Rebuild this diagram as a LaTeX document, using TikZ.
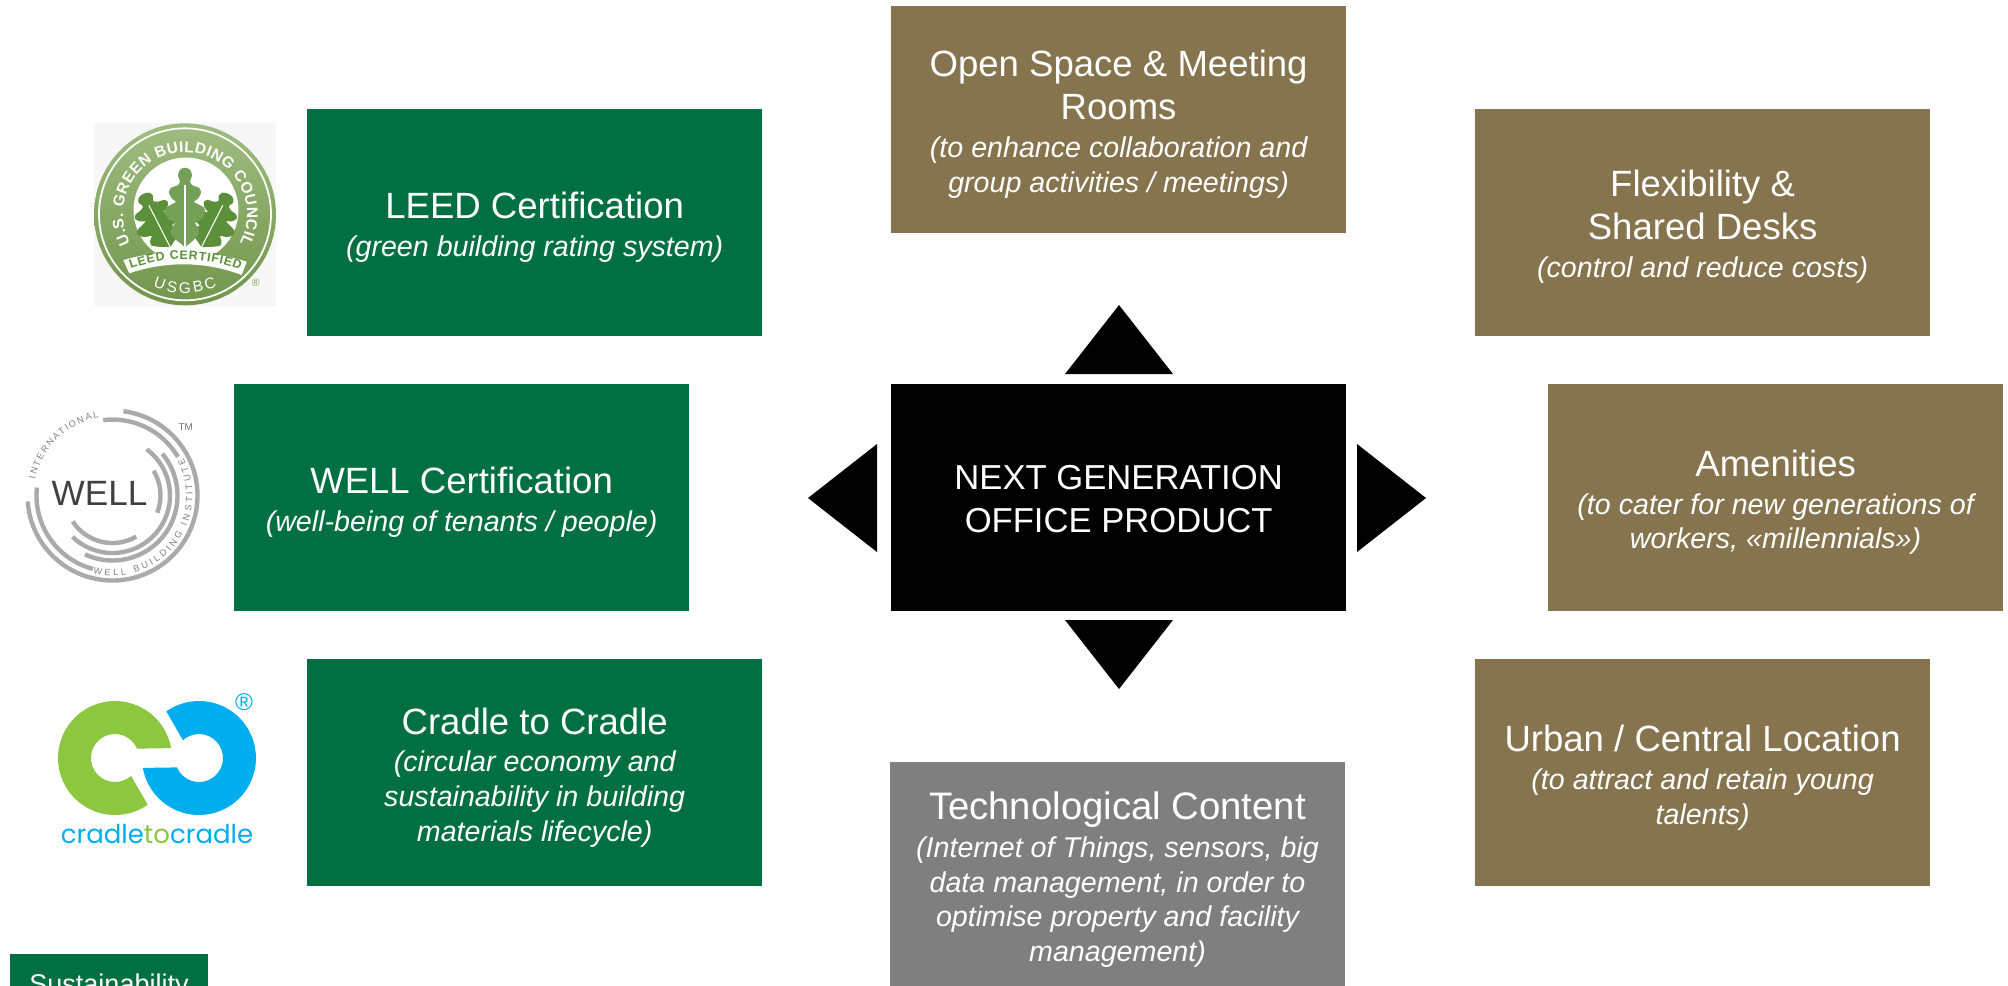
\documentclass[tikz,border=0pt]{standalone}
\usepackage{fontspec}
\setmainfont{Liberation Sans}
\newfontfamily\logofont{Poppins}
\usetikzlibrary{positioning, decorations.text}

\definecolor{boxgreen}{RGB}{0,112,66}
\definecolor{boxbrown}{RGB}{133,116,78}
\definecolor{boxgray}{RGB}{127,127,127}
\definecolor{leedgreen}{RGB}{126,166,85}
\definecolor{leedleaf}{RGB}{92,143,58}
\definecolor{wellgray}{RGB}{170,170,170}
\definecolor{ccgreen}{RGB}{141,198,63}
\definecolor{ccblue}{RGB}{0,174,239}

\newcommand{\heading}[2][10.4]{{\fontsize{#1}{12.3}\selectfont #2}}
\newcommand{\remark}[1]{{\itshape #1}}
\newcommand{\titlebreak}{\\[2.4pt]}
\newcommand{\remarkbreak}{\\[.9pt]}
\newcommand{\lowtext}{\rule{0pt}{10.2pt}}

\tikzset{
 infobox/.style={rectangle, text=white, minimum width=45.5mm, minimum height=22.7mm, inner sep=0pt, align=center, font=\fontsize{8.15}{9.9}\selectfont},
 greenbox/.style={infobox, fill=boxgreen},
 brownbox/.style={infobox, fill=boxbrown},
 pointer/.style={fill=black},
 wellring/.style={draw=wellgray, line width=1.25pt},
 oakleaf/.pic={
  \fill[pic actions] plot[smooth cycle] coordinates {(0,79) (5,77) (7,71) (5,65) (8,61) (14,59) (16,54) (13,48) (9,45) (14,42) (19,39) (20,33) (16,27) (10,24) (13,19) (14,13) (9,7) (3,2) (1,0) (-1,0) (-3,2) (-9,7) (-14,13) (-13,19) (-10,24) (-16,27) (-20,33) (-19,39) (-14,42) (-9,45) (-13,48) (-16,54) (-14,59) (-8,61) (-5,65) (-7,71) (-5,77)};
  \draw[white, line width=.3pt] (0,0) -- (0,62);
 }
}

\begin{document}
\begin{tikzpicture}[x=0.1mm, y=0.1mm]
 \clip (0, 0) rectangle (2008, -985);

 % left column
 \node[greenbox] (leed) at (534.7, -222.2) {\lowtext\heading{LEED Certification}\remarkbreak\remark{(green building rating system)}};
 \node[greenbox] (well) at (461.6, -497.5) {\lowtext\heading{WELL Certification}\remarkbreak\remark{(well-being of tenants / people)}};
 \node[greenbox] (cradle) at (534.7, -772.8) {\lowtext\heading{Cradle to Cradle}\remarkbreak\remark{(circular economy and}\\\remark{sustainability in building}\\\remark{materials lifecycle)}};

 % middle column
 \node[brownbox] (space) at (1118.6, -119.7) {\lowtext\heading{Open Space \& Meeting}\titlebreak\heading{Rooms}\remarkbreak\remark{(to enhance collaboration and}\\\remark{group activities / meetings)}};
 \node[infobox, fill=black, font=\fontsize{9.85}{12.3}\selectfont] (office) at (1118.6, -497.5) {\rule{0pt}{7.9pt}NEXT GENERATION\\OFFICE PRODUCT};
 \node[infobox, fill=boxgray] (tech) at (1117.5, -875.5) {\lowtext\heading[10.9]{Technological Content}\remarkbreak\remark{(Internet of Things, sensors, big}\\\remark{data management, in order to}\\\remark{optimise property and facility}\\\remark{management)}};

 % right column
 \node[brownbox] (desks) at (1702.6, -222.2) {\lowtext\heading{Flexibility \&}\titlebreak\heading{Shared Desks}\remarkbreak\remark{(control and reduce costs)}};
 \node[brownbox] (amenities) at (1775.6, -497.5) {\lowtext\heading{Amenities}\remarkbreak\remark{(to cater for new generations of}\\\remark{workers, «millennials»)}};
 \node[brownbox] (urban) at (1702.6, -772.8) {\lowtext\heading{Urban / Central Location}\remarkbreak\remark{(to attract and retain young}\\\remark{talents)}};

 % legend, runs off the page
 \node[rectangle, fill=boxgreen, text=white, minimum width=19.8mm, minimum height=6.4mm, inner sep=0pt] (legend) at (109, -986) {\fontsize{7.7}{9.5}\selectfont Sustainability};

 % triangles round the middle box
 \fill[pointer] (1119, -305) -- (1065, -374) -- (1173, -374) -- cycle;
 \fill[pointer] (1119, -689) -- (1065, -620) -- (1173, -620) -- cycle;
 \fill[pointer] (808, -498) -- (877, -444) -- (877, -552) -- cycle;
 \fill[pointer] (1426, -498) -- (1357, -444) -- (1357, -552) -- cycle;

 % LEED logo
 \fill[black!3] (94, -123) rectangle (276, -306);
 \shade[top color=leedgreen!75, bottom color=leedgreen!90!black] (185, -214.3) circle (91);
 \draw[white, line width=.5pt] (185, -214.3) circle (86);
 \fill[white] (186, -210) circle (52.5);
 \path pic[leedleaf, rotate=27, xscale=1.15, yscale=.75] at (170, -246.7) {oakleaf};
 \path pic[leedleaf, rotate=-27, xscale=1.15, yscale=.75] at (201.7, -246.7) {oakleaf};
 \path pic[leedleaf!85] at (185, -246.7) {oakleaf};
 \fill[white] (123.3, -260) .. controls (165, -248.6) and (205, -248.6) .. (246.7, -261.7) -- (241.7, -275) .. controls (205, -261) and (165, -261) .. (129.3, -273.3) -- cycle;
 \path[decorate, decoration={text along path, text align={fit to path}, text color=white, text={|\fontsize{4.4}{5}\selectfont\bfseries|U.S. GREEN BUILDING COUNCIL}}] ([shift=(208:62)]185, -214.3) arc[start angle=208, end angle=-28, radius=62];
 \path[decorate, decoration={text along path, text align={fit to path}, text color=leedleaf, text={|\fontsize{3.5}{4}\selectfont\bfseries|LEED CERTIFIED}}] (131, -269) .. controls (165, -256) and (205, -256) .. (240, -270);
 \path[decorate, decoration={text along path, text align={fit to path}, text color=white, text={|\fontsize{4.4}{5}\selectfont|USGBC}}] ([shift=(246:79)]185, -214.3) arc[start angle=246, end angle=294, radius=79];
 \node[text=leedgreen, inner sep=0pt] (leedmark) at (255.7, -282.7) {\fontsize{3}{3}\selectfont ®};

 % WELL logo
 \foreach \ra/\sa/\ea in {85/82.6/-176, 76/97/30.6, 76/174/255, 65/40/-115, 57.5/53.5/-134, 48/31/-21, 47.5/213/300}
  \draw[wellring] ([shift=(\sa:\ra)]112.5, -495.5) arc[start angle=\sa, end angle=\ea, radius=\ra];
 \node[text=black!75, inner sep=0pt] (wellname) at (99.5, -493) {\fontsize{10}{10}\selectfont WELL};
 \node[text=black!55, inner sep=0pt] (wellmark) at (185.7, -427) {\fontsize{2.8}{3}\selectfont TM};
 \path[decorate, decoration={text along path, text align={fit to path}, text color=black!50, text={|\fontsize{2.6}{3}\selectfont|INTERNATIONAL}}] ([shift=(168:79)]112.5, -495.5) arc[start angle=168, end angle=100, radius=79];
 \path[decorate, decoration={text along path, text align={fit to path}, text color=black!50, text={|\fontsize{2.6}{3}\selectfont|WELL BUILDING INSTITUTE}}] ([shift=(256:80)]112.5, -495.5) arc[start angle=256, end angle=388, radius=80];

 % cradle to cradle logo
 \fill[ccgreen] ([shift=(10:57)]115, -758) arc[start angle=10, end angle=305, radius=57] -- ([shift=(312:24)]115, -758) arc[start angle=312, end angle=23, radius=24] -- cycle;
 \fill[ccblue, rotate around={180:(157, -758)}] ([shift=(10:57)]115, -758) arc[start angle=10, end angle=305, radius=57] -- ([shift=(312:24)]115, -758) arc[start angle=312, end angle=23, radius=24] -- cycle;
 \node[text=ccblue, inner sep=0pt] (ccmark) at (244, -702) {\fontsize{6.9}{7}\selectfont ®};
 \node[inner sep=0pt] (ccname) at (157, -834) {\logofont\fontsize{7.4}{8}\selectfont\textcolor{ccblue}{cradle}\textcolor{ccgreen}{to}\textcolor{ccblue}{cradle}};
\end{tikzpicture}
\end{document}
